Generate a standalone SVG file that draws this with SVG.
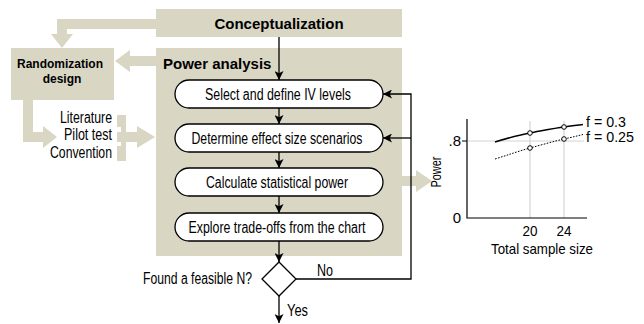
<svg xmlns="http://www.w3.org/2000/svg" width="644" height="324" viewBox="0 0 644 324">
<style>
.bg{fill:#d9d6c4}
.t{font-family:"Liberation Sans",Arial,sans-serif;font-size:16px;fill:#000}
.c{font-family:"Liberation Sans",Arial,sans-serif;font-size:15px;fill:#000}
.b{font-family:"Liberation Sans",Arial,sans-serif;font-weight:bold;fill:#000}
.box{fill:#fff;stroke:#000;stroke-width:1.3}
.ln{fill:none;stroke:#000;stroke-width:1.3}
.grid{stroke:#d4d4d4;stroke-width:1.2;fill:none}
.ax{stroke:#000;stroke-width:1.2;fill:none}
.pt{fill:#fff;stroke:#000;stroke-width:1}
</style>
<defs>
<marker id="ah" viewBox="0 0 10 10" refX="10" refY="5" markerWidth="9" markerHeight="9" markerUnits="userSpaceOnUse" orient="auto">
<path d="M0,0 L10,5 L0,10 L2.5,5 Z" fill="#000"/>
</marker>
</defs>

<!-- beige flow arrows -->
<g id="wide-arrows" class="bg">
<path d="M156,19 H57 V34 H51 L62,48 L73,34 H67 V29 H156 Z"/>
<path d="M156,56 H130 V50 L115,61 L130,72 V66 H156 Z"/>
<path d="M23,100 V142 H43 V148 L57,137 L43,126 V132 H33 V100 Z"/>
<path d="M117,115 H126 V132 H137 V126 L155,137 L137,148 V142 H126 V161 H117 V146 H121 V142 H117 V132 H121 V127 H117 Z"/>
<path d="M402,176 H416 V170 L432,181 L416,192 V186 H402 Z"/>
</g>

<g id="conceptualization">
<rect class="bg" x="156" y="9" width="246" height="28"/>
<text class="b" x="279" y="28.5" font-size="15" text-anchor="middle">Conceptualization</text>
</g>

<g id="randomization">
<rect class="bg" x="11" y="48" width="103" height="52"/>
<text class="b" x="60" y="68" font-size="12" text-anchor="middle">Randomization</text>
<text class="b" x="62" y="83" font-size="12" text-anchor="middle">design</text>
</g>

<g id="sources">
<text class="t" x="112" y="123" text-anchor="end" textLength="52" lengthAdjust="spacingAndGlyphs">Literature</text>
<text class="t" x="112" y="140" text-anchor="end" textLength="48" lengthAdjust="spacingAndGlyphs">Pilot test</text>
<text class="t" x="112" y="157.5" text-anchor="end" textLength="62" lengthAdjust="spacingAndGlyphs">Convention</text>
</g>

<g id="power-analysis">
<rect class="bg" x="156" y="48" width="246" height="208"/>
<text class="b" x="163" y="68.5" font-size="15">Power analysis</text>
</g>

<g id="select">
<rect class="box" x="175" y="80" width="208" height="28" rx="14"/>
<text class="t" x="278" y="99.8" text-anchor="middle" textLength="146" lengthAdjust="spacingAndGlyphs">Select and define IV levels</text>
</g>
<g id="determine">
<rect class="box" x="175" y="124" width="208" height="28" rx="14"/>
<text class="t" x="277" y="143.8" text-anchor="middle" textLength="171" lengthAdjust="spacingAndGlyphs">Determine effect size scenarios</text>
</g>
<g id="calculate">
<rect class="box" x="175" y="168" width="208" height="28" rx="14"/>
<text class="t" x="277" y="187.8" text-anchor="middle" textLength="142" lengthAdjust="spacingAndGlyphs">Calculate statistical power</text>
</g>
<g id="explore">
<rect class="box" x="175" y="213" width="208" height="28" rx="14"/>
<text class="t" x="277" y="232.8" text-anchor="middle" textLength="177" lengthAdjust="spacingAndGlyphs">Explore trade-offs from the chart</text>
</g>

<g id="decision">
<path class="box" d="M279,262 L296,279 L279,296 L262,279 Z"/>
<text class="t" x="252" y="283.5" text-anchor="end" textLength="109" lengthAdjust="spacingAndGlyphs">Found a feasible N?</text>
</g>

<g id="connectors">
<path class="ln" d="M279,37 V80" marker-end="url(#ah)"/>
<path class="ln" d="M279,108 V124" marker-end="url(#ah)"/>
<path class="ln" d="M279,152 V168" marker-end="url(#ah)"/>
<path class="ln" d="M279,196 V213" marker-end="url(#ah)"/>
<path class="ln" d="M279,241 V262" marker-end="url(#ah)"/>
<path class="ln" d="M279,296 V323" marker-end="url(#ah)"/>
<path class="ln" d="M296,279 H411 V94 H383" marker-end="url(#ah)"/>
<path class="ln" d="M411,138 H383" marker-end="url(#ah)"/>
<text class="t" x="317" y="276" textLength="16" lengthAdjust="spacingAndGlyphs">No</text>
<text class="t" x="287" y="315.5" textLength="21" lengthAdjust="spacingAndGlyphs">Yes</text>
</g>

<g id="chart">
<path class="grid" d="M468,141 H584 M530,121 V218 M564,121 V218"/>
<path class="ax" d="M467,119 V218 H587 M462,141 H467"/>
<text class="c" x="461" y="146" text-anchor="end">.8</text>
<text class="c" x="461" y="223" text-anchor="end">0</text>
<text class="c" x="530" y="235.5" text-anchor="middle" textLength="15" lengthAdjust="spacingAndGlyphs">20</text>
<text class="c" x="564" y="235.5" text-anchor="middle" textLength="15" lengthAdjust="spacingAndGlyphs">24</text>
<text class="c" x="542" y="253.5" text-anchor="middle" textLength="102" lengthAdjust="spacingAndGlyphs">Total sample size</text>
<text class="c" transform="translate(441,172) rotate(-90)" text-anchor="middle" textLength="31" lengthAdjust="spacingAndGlyphs">Power</text>
<path fill="none" stroke="#000" stroke-width="1.5" d="M495,142 C508,138 519,135 530,133 S555,128 564,127 S577,125 583,124.5"/>
<path fill="none" stroke="#000" stroke-width="1" stroke-dasharray="1.6 1.4" d="M495,159 C508,155 519,151 530,148 S555,141 564,139 S577,136 583,134.5"/>
<circle class="pt" cx="530" cy="133" r="2.3"/>
<circle class="pt" cx="564" cy="127" r="2.3"/>
<circle class="pt" cx="530" cy="148" r="2.3"/>
<circle class="pt" cx="564" cy="139" r="2.3"/>
<text class="c" x="586" y="126.5" textLength="40" lengthAdjust="spacingAndGlyphs">f = 0.3</text>
<text class="c" x="586" y="142" textLength="48" lengthAdjust="spacingAndGlyphs">f = 0.25</text>
</g>
</svg>
